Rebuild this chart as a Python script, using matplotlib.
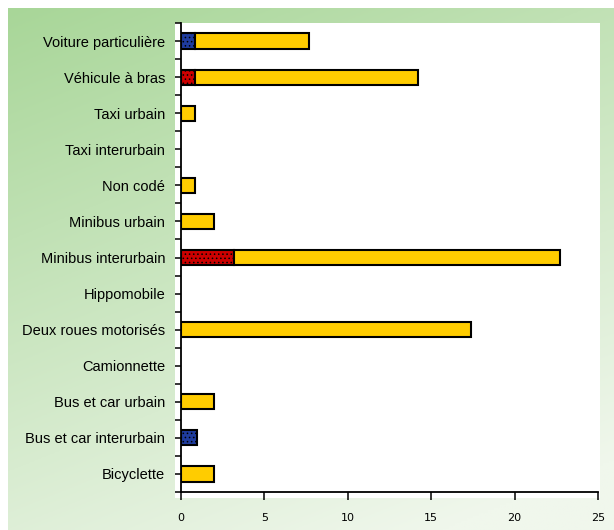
import numpy as np
import matplotlib
matplotlib.use('Agg')
import matplotlib.pyplot as plt
from matplotlib.patches import Rectangle

# categories, top to bottom as in the chart
categories = ['Voiture particulière', 'Véhicule à bras', 'Taxi urbain', 'Taxi interurbain',
              'Non codé', 'Minibus urbain', 'Minibus interurbain', 'Hippomobile',
              'Deux roues motorisés', 'Camionnette', 'Bus et car urbain',
              'Bus et car interurbain', 'Bicyclette']
# three stacked series (blue, red, yellow)
blue_vals = [0.85, 0, 0, 0, 0, 0, 0, 0, 0, 0, 0, 0.95, 0]
red_vals = [0, 0.85, 0, 0, 0, 0, 3.2, 0, 0, 0, 0, 0, 0]
yellow_vals = [6.85, 13.35, 0.85, 0, 0.85, 2.0, 19.5, 0, 17.4, 0, 2.0, 0, 2.0]
x_ticks = [0, 5, 10, 15, 20, 25]

plt.rcParams['hatch.linewidth'] = 0.6
label_font = ['Liberation Sans', 'DejaVu Sans']

fig = plt.figure(figsize=(6.14, 5.30), dpi=100)

# green gradient background, covering the whole figure except a thin white margin
bg = fig.add_axes([0, 0, 1, 1], zorder=0)
yy, xx = np.mgrid[0:1:200j, 0:1:200j]
t = np.clip(0.75*yy + 0.35*xx, 0, 1)
top = np.array([168, 214, 152]) / 255
bottom = np.array([240, 247, 236]) / 255
grad = top[None, None, :]*(1 - t[..., None]) + bottom[None, None, :]*t[..., None]
bg.imshow(grad, aspect='auto', extent=[8/614, 1, 0, 1 - 8/530], origin='upper')
bg.set_xlim(0, 1)
bg.set_ylim(0, 1)
# white plot area
bg.add_patch(Rectangle((175/614, 32/530), 425/614, 475/530, facecolor='white', edgecolor='none'))
bg.axis('off')

ax = fig.add_axes([181/614, 38/530, 417/614, 469/530], zorder=1)
ax.set_facecolor('none')

y = np.arange(len(categories))
blue = np.array(blue_vals)
red = np.array(red_vals)
yellow = np.array(yellow_vals)
h = 0.42

m = blue > 0
ax.barh(y[m], blue[m], height=h, color='#1F3C9E', edgecolor='black', linewidth=1.5, hatch='....')
m = red > 0
ax.barh(y[m], red[m], height=h, color='#CC0000', edgecolor='black', linewidth=1.5, hatch='....')
m = yellow > 0
ax.barh(y[m], yellow[m], left=(blue + red)[m], height=h, color='#FFCC00', edgecolor='black', linewidth=1.5)

ax.set_xlim(0, 25)
ax.set_ylim(len(categories) - 0.5, -0.5)
ax.set_xticks(x_ticks)
ax.set_xticklabels([str(v) for v in x_ticks], fontsize=8)
ax.set_yticks(y)
ax.set_yticklabels(categories, fontsize=10.5, family=label_font)
ax.set_yticks(np.arange(len(categories) + 1) - 0.5, minor=True)

for s in ['top', 'right']:
    ax.spines[s].set_visible(False)
for s in ['left', 'bottom']:
    ax.spines[s].set_linewidth(1.3)
ax.tick_params(axis='x', direction='out', length=6, width=1.1, pad=9)
ax.tick_params(axis='y', which='both', direction='out', length=4.5, width=1.1, pad=7)

plt.savefig('out.png', dpi=100)
